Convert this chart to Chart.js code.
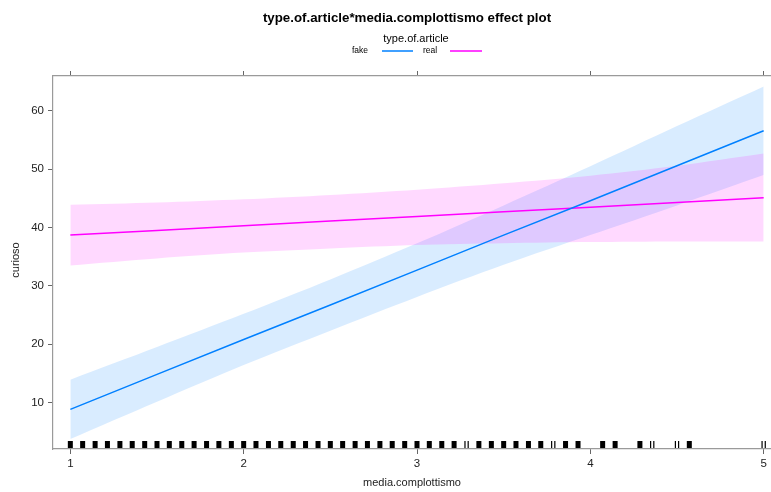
<!DOCTYPE html>
<html lang="en">
<head>
  <meta charset="UTF-8">
  <title>type.of.article*media.complottismo effect plot</title>
  <script src="https://cdn.jsdelivr.net/npm/chart.js"></script>
  <style>
    body {
      margin: 0;
      background: #ffffff;
      overflow: hidden;
    }
    #wrap {
      width: 771px;
      height: 492px;
      overflow: hidden;
    }
    canvas {
      display: block;
    }
  </style>
</head>
<body>
  <div id="wrap">
    <canvas id="effectPlot" width="790" height="492"></canvas>
  </div>

  <script>
    // effect values along media.complottismo
    const xGrid = [1, 1.5, 2, 2.5, 3, 3.5, 4, 4.5, 5];

    const fakeFit = [8.8, 14.8, 20.8, 26.7, 32.7, 38.7, 44.6, 50.6, 56.6];
    const fakeUpper = [13.9, 19.5, 25.2, 31.1, 37.3, 43.8, 50.5, 57.4, 64.2];
    const fakeLower = [3.7, 10.1, 16.4, 22.3, 28.1, 33.6, 38.7, 43.8, 49.0];

    const realFit = [38.7, 39.5, 40.3, 41.1, 41.9, 42.7, 43.5, 44.3, 45.1];
    const realUpper = [43.9, 44.3, 44.85, 45.6, 46.5, 47.6, 48.9, 50.6, 52.7];
    const realLower = [33.5, 34.7, 35.7, 36.4, 37.0, 37.3, 37.5, 37.6, 37.6];

    const xTicks = [1, 2, 3, 4, 5];
    const yTicks = [10, 20, 30, 40, 50, 60];

    // observed media.complottismo values (rug)
    const rugSolid = [1, 1.071, 1.143, 1.214, 1.286, 1.357, 1.429, 1.5, 1.571, 1.643,
      1.714, 1.786, 1.857, 1.929, 2, 2.071, 2.143, 2.214, 2.286, 2.357, 2.429, 2.5,
      2.571, 2.643, 2.714, 2.786, 2.857, 2.929, 3, 3.071, 3.143, 3.214, 3.357, 3.429,
      3.5, 3.571, 3.643, 3.714, 3.857, 3.929, 4.071, 4.143, 4.286, 4.571];
    const rugPaired = [3.286, 3.786, 4.357, 4.5, 5];

    const BLUE = '#0080ff';
    const MAGENTA = '#ff00ff';
    const FONT = "'Liberation Sans', Arial, sans-serif";

    const pts = ys => ys.map((y, i) => ({ x: xGrid[i], y: y }));

    const edge = (data, fill, color, order) => ({
      data: pts(data),
      borderWidth: 0,
      pointRadius: 0,
      fill: fill,
      backgroundColor: color,
      tension: 0.3,
      order: order
    });

    const fitLine = (data, color) => ({
      data: pts(data),
      borderColor: color,
      borderWidth: 1.5,
      pointRadius: 0,
      fill: false,
      order: 0
    });

    // titles, legend and rug
    const decor = {
      id: 'decor',
      afterDraw(chart) {
        const ctx = chart.ctx;
        const xs = chart.scales.x;
        const area = chart.chartArea;
        ctx.save();
        ctx.textAlign = 'center';
        ctx.textBaseline = 'middle';
        ctx.fillStyle = '#000';

        ctx.font = 'bold 13.3px ' + FONT;
        ctx.fillText('type.of.article*media.complottismo effect plot', 407, 18);

        ctx.font = '11px ' + FONT;
        ctx.fillText('type.of.article', 416, 39);

        ctx.font = '8.5px ' + FONT;
        ctx.fillText('fake', 360, 51);
        ctx.fillText('real', 430, 51);
        ctx.lineWidth = 1.5;
        ctx.strokeStyle = BLUE;
        ctx.beginPath(); ctx.moveTo(382, 51); ctx.lineTo(413, 51); ctx.stroke();
        ctx.strokeStyle = MAGENTA;
        ctx.beginPath(); ctx.moveTo(450, 51); ctx.lineTo(482, 51); ctx.stroke();

        ctx.font = '11px ' + FONT;
        ctx.fillStyle = '#222';
        ctx.fillText('media.complottismo', 412, 483);
        ctx.save();
        ctx.translate(16, 260);
        ctx.rotate(-Math.PI / 2);
        ctx.fillText('curioso', 0, 0);
        ctx.restore();

        ctx.fillStyle = '#000';
        rugSolid.forEach(v => {
          const px = xs.getPixelForValue(v);
          ctx.fillRect(px - 2.5, area.bottom - 8, 5, 7);
        });
        rugPaired.forEach(v => {
          const px = xs.getPixelForValue(v);
          ctx.fillRect(px - 2.2, area.bottom - 8, 1.2, 7);
          ctx.fillRect(px + 1.0, area.bottom - 8, 1.2, 7);
        });
        ctx.restore();
      }
    };

    const axisGrid = {
      drawOnChartArea: false,
      drawTicks: true,
      tickLength: 5,
      color: '#666'
    };
    const axisBorder = { display: true, color: '#9a9a9a', width: 1.2 };

    new Chart(document.getElementById('effectPlot'), {
      type: 'line',
      data: {
        datasets: [
          edge(fakeUpper, '+1', 'rgba(0,128,255,0.15)', 2),
          edge(fakeLower, false, 'transparent', 2),
          edge(realUpper, '+1', 'rgba(255,0,255,0.15)', 1),
          edge(realLower, false, 'transparent', 1),
          fitLine(fakeFit, BLUE),
          fitLine(realFit, MAGENTA)
        ]
      },
      options: {
        responsive: false,
        animation: false,
        layout: { padding: { top: 71, right: 9, left: 0, bottom: 0 } },
        plugins: {
          legend: { display: false },
          title: { display: false },
          tooltip: { enabled: false }
        },
        scales: {
          x: {
            type: 'linear',
            position: 'bottom',
            min: 0.9,
            max: 5.1,
            afterBuildTicks: s => { s.ticks = xTicks.map(v => ({ value: v })); },
            afterFit: s => { s.height = 43; },
            grid: axisGrid,
            border: axisBorder,
            ticks: {
              font: { family: FONT, size: 11.5 },
              color: '#222',
              padding: 3,
              maxRotation: 0
            }
          },
          xTop: {
            type: 'linear',
            position: 'top',
            min: 0.9,
            max: 5.1,
            afterBuildTicks: s => { s.ticks = xTicks.map(v => ({ value: v })); },
            afterFit: s => { s.height = 5; },
            grid: axisGrid,
            border: axisBorder,
            ticks: { display: false }
          },
          y: {
            min: 2,
            max: 66,
            afterBuildTicks: s => { s.ticks = yTicks.map(v => ({ value: v })); },
            afterFit: s => { s.width = 53; },
            grid: axisGrid,
            border: axisBorder,
            ticks: {
              font: { family: FONT, size: 11.5 },
              color: '#222',
              padding: 4
            }
          }
        }
      },
      plugins: [decor]
    });
  </script>
</body>
</html>
